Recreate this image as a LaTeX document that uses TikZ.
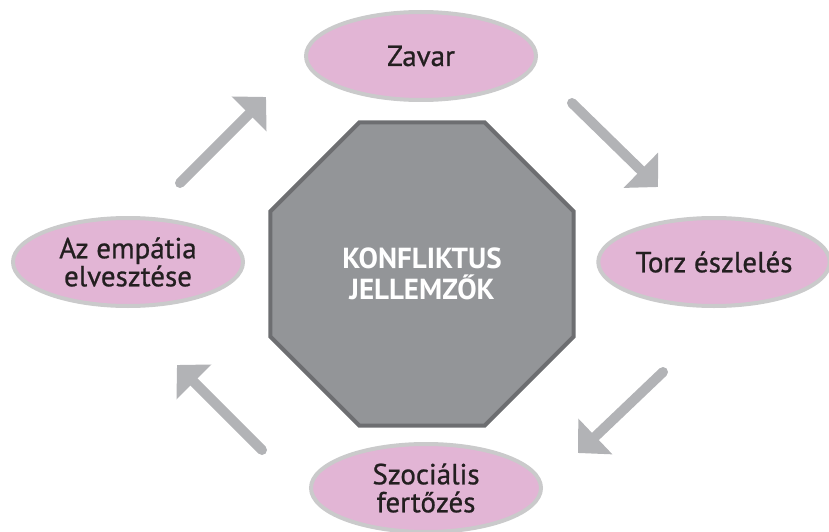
\documentclass[tikz,border=0pt]{standalone}
\usepackage{fontspec}
\setmainfont{PT Sans}
\newfontfamily\petalfont[FakeBold=0.8]{PT Sans}
\usetikzlibrary{arrows.meta,shapes.geometric}
\definecolor{petal}{HTML}{E2B5D5}
\definecolor{rimgray}{HTML}{CACACB}
\definecolor{octfill}{HTML}{939598}
\definecolor{octrim}{HTML}{6D6E71}
\definecolor{arrowgray}{HTML}{B2B3B6}
\definecolor{ink}{HTML}{231F20}

\begin{document}
\begin{tikzpicture}[x=1pt,y=-1pt]
	\useasboundingbox (0,0) rectangle (829,532);
	\begin{scope}[every node/.style={ellipse,draw=rimgray,line width=4pt,fill=petal,minimum width=230pt,minimum height=88pt,align=center,text=ink,font=\petalfont\fontsize{29}{28}\selectfont}]
		\node (Zavar) at (421,56) {Zavar};
		\node (Torz) at (714,262) {Torz észlelés};
		\node (Szocialis) at (426,488) {Szociális\\fertőzés};
		\node (Empatia) at (128,262) {Az empátia\\elvesztése};
	\end{scope}
	\node[regular polygon, regular polygon sides=8, minimum size=328pt, draw=octrim, line width=4pt, fill=octfill, text=white, align=center, font=\fontsize{29}{31}\selectfont\bfseries] (Konfliktus) at (422,274) {KONFLIKTUS\\JELLEMZŐK};

	% arrow ends
	\coordinate (Empatia out) at (180,183);
	\coordinate (Zavar in) at (266,97);
	\coordinate (Zavar out) at (572,103);
	\coordinate (Torz in) at (658,187);
	\coordinate (Torz out) at (663,372);
	\coordinate (Szocialis in) at (578,453);
	\coordinate (Szocialis out) at (262,450);
	\coordinate (Empatia in) at (177,365);

	\begin{scope}[line width=10pt, line cap=round, >={Triangle[length=24pt,width=48pt]}]
	\draw [->, arrowgray] (Empatia out) -- (Zavar in);
	\draw [->, arrowgray] (Zavar out) -- (Torz in);
	\draw [->, arrowgray] (Torz out) -- (Szocialis in);
	\draw [->, arrowgray] (Szocialis out) -- (Empatia in);
	\end{scope}
\end{tikzpicture}
\end{document}
